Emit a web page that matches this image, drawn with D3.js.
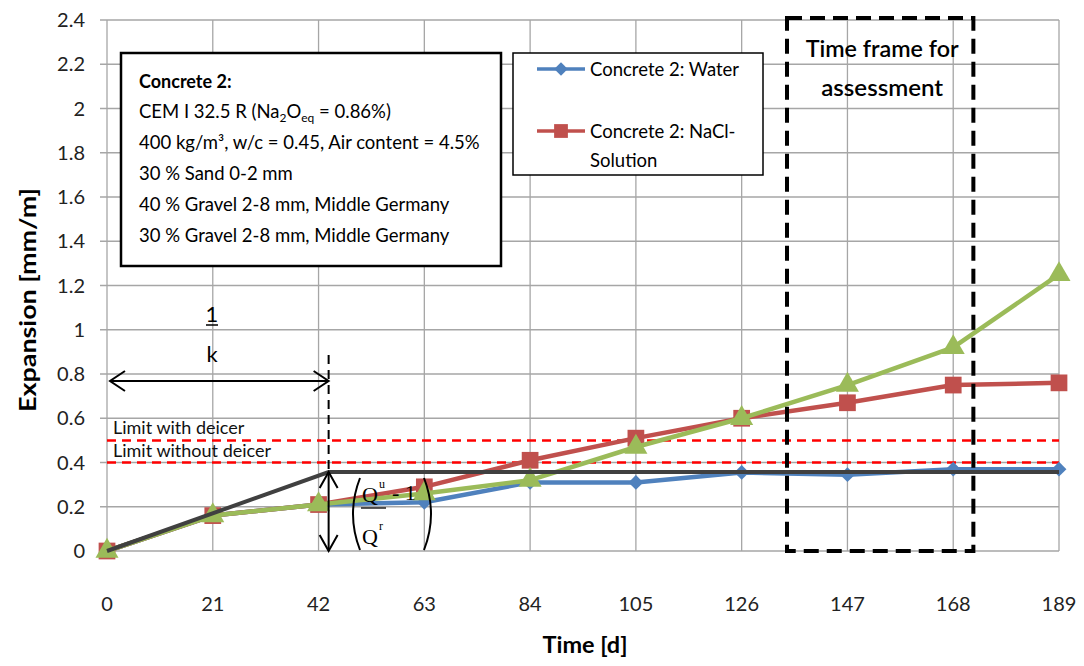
<!DOCTYPE html>
<html>
<head>
<meta charset="utf-8">
<script src="https://cdn.jsdelivr.net/npm/d3@7"></script>
<style>
  body { margin: 0; background: #fff; }
  text { font-family: Lato, "Open Sans", sans-serif; }
</style>
</head>
<body>
<div id="chart"></div>
<script>
// days of measurement
const days = [0, 21, 42, 63, 84, 105, 126, 147, 168, 189];
// expansion in mm/m
const waterValues = [0, 0.16, 0.21, 0.22, 0.31, 0.31, 0.355, 0.345, 0.37, 0.37];
const naclValues = [0, 0.16, 0.21, 0.29, 0.41, 0.51, 0.6, 0.67, 0.75, 0.76];
const thirdValues = [0, 0.16, 0.21, 0.26, 0.32, 0.47, 0.6, 0.75, 0.92, 1.25];
const yTicks = [0, 0.2, 0.4, 0.6, 0.8, 1, 1.2, 1.4, 1.6, 1.8, 2, 2.2, 2.4];
const limits = [
  { label: "Limit with deicer", value: 0.5 },
  { label: "Limit without deicer", value: 0.4 }
];
// bilinear fit drawn on top: rise to 1/k, then plateau
const fitDays = [0, 44, 189];
const fitValues = [0, 0.357, 0.357];
const assessmentFrame = [135, 172];
const legendNames = ["Concrete 2: Water", "Concrete 2: NaCl-", "Solution"];
const infoLines = [
  "CEM I 32.5 R (Na₂O_eq = 0.86%)",
  "400 kg/m³, w/c = 0.45, Air content = 4.5%",
  "30 % Sand 0-2 mm",
  "40 % Gravel 2-8 mm, Middle Germany",
  "30 % Gravel 2-8 mm, Middle Germany"
];

const width = 1084;
const height = 666;
const margin = { left: 107, right: 25, top: 20, bottom: 115 };

const svg = d3.select("#chart").append("svg")
  .attr("width", width)
  .attr("height", height);

const x = d3.scaleLinear().domain([0, 189]).range([margin.left, width - margin.right]);
const y = d3.scaleLinear().domain([0, 2.4]).range([height - margin.bottom, margin.top]);

// grid
const grid = svg.append("g");
grid.selectAll("line.h")
  .data(yTicks)
  .enter().append("line")
  .attr("x1", x(0) - 7).attr("x2", x(189))
  .attr("y1", d => y(d)).attr("y2", d => y(d))
  .style("stroke", "#a6a6a6").style("stroke-width", 1.3);
grid.selectAll("line.v")
  .data(days)
  .enter().append("line")
  .attr("x1", d => x(d)).attr("x2", d => x(d))
  .attr("y1", y(2.4)).attr("y2", y(0))
  .style("stroke", "#a6a6a6").style("stroke-width", 1.3);

// axis labels
svg.append("g").selectAll("text")
  .data(yTicks)
  .enter().append("text")
  .attr("x", x(0) - 22)
  .attr("y", d => y(d) + 7)
  .attr("text-anchor", "end")
  .style("font-size", "20px")
  .style("fill", "#222")
  .text(d => d);

svg.append("g").selectAll("text")
  .data(days)
  .enter().append("text")
  .attr("x", d => x(d))
  .attr("y", 611)
  .attr("text-anchor", "middle")
  .style("font-size", "20px")
  .style("fill", "#222")
  .text(d => d);

svg.append("text")
  .attr("transform", "translate(36,300) rotate(-90)")
  .attr("text-anchor", "middle")
  .attr("textLength", 224)
  .attr("lengthAdjust", "spacingAndGlyphs")
  .style("font-size", "22px")
  .style("font-weight", "bold")
  .text("Expansion [mm/m]");

svg.append("text")
  .attr("x", 585).attr("y", 653)
  .attr("text-anchor", "middle")
  .attr("textLength", 85)
  .attr("lengthAdjust", "spacingAndGlyphs")
  .style("font-size", "22px")
  .style("font-weight", "bold")
  .text("Time [d]");

// limit lines
limits.forEach(l => {
  svg.append("line")
    .attr("x1", x(0)).attr("x2", x(189))
    .attr("y1", y(l.value)).attr("y2", y(l.value))
    .style("stroke", "#ff0000").style("stroke-width", 2.5)
    .style("stroke-dasharray", "9,6");
  svg.append("text")
    .attr("x", x(0) + 6).attr("y", y(l.value) - 6)
    .style("font-size", "18px")
    .style("fill", "#111")
    .text(l.label);
});

// series
const line = d3.line().x((d, i) => x(days[i])).y(d => y(d));

function drawSeries(values, color, symbol, size, rotate) {
  svg.append("path")
    .datum(values)
    .attr("d", line)
    .style("fill", "none")
    .style("stroke", color)
    .style("stroke-width", 4.5)
    .style("stroke-linejoin", "round");
  svg.append("g").selectAll("path")
    .data(values)
    .enter().append("path")
    .attr("d", d3.symbol().type(symbol).size(size))
    .attr("transform", (d, i) => `translate(${x(days[i])},${y(d)}) rotate(${rotate})`)
    .style("fill", color);
}

drawSeries(waterValues, "#4f81bd", d3.symbolSquare, 110, 45);
drawSeries(naclValues, "#c0504d", d3.symbolSquare, 280, 0);
drawSeries(thirdValues, "#9bbb59", d3.symbolTriangle, 230, 0);

// fit line
svg.append("path")
  .datum(fitValues)
  .attr("d", d3.line().x((d, i) => x(fitDays[i])).y(d => y(d)))
  .style("fill", "none")
  .style("stroke", "#404040")
  .style("stroke-width", 4);

// 1/k annotation
const kx = x(fitDays[1]);
svg.append("line")
  .attr("x1", kx).attr("x2", kx)
  .attr("y1", 355).attr("y2", y(fitValues[1]))
  .style("stroke", "#000").style("stroke-width", 2)
  .style("stroke-dasharray", "9,6");

const arrowY = 381;
svg.append("line")
  .attr("x1", x(0) + 3).attr("x2", kx)
  .attr("y1", arrowY).attr("y2", arrowY)
  .style("stroke", "#000").style("stroke-width", 2);
svg.append("path")
  .attr("d", `M${x(0) + 18},${arrowY - 10}L${x(0) + 3},${arrowY}L${x(0) + 18},${arrowY + 10}` +
    `M${kx - 15},${arrowY - 10}L${kx},${arrowY}L${kx - 15},${arrowY + 10}`)
  .style("fill", "none").style("stroke", "#000").style("stroke-width", 2);

svg.append("text")
  .attr("x", 212).attr("y", 322)
  .attr("text-anchor", "middle")
  .style("font-size", "22px")
  .text("1");
svg.append("line")
  .attr("x1", 206).attr("x2", 218)
  .attr("y1", 325).attr("y2", 325)
  .style("stroke", "#000").style("stroke-width", 1.5);
svg.append("text")
  .attr("x", 212).attr("y", 362)
  .attr("text-anchor", "middle")
  .style("font-size", "22px")
  .text("k");

// vertical double arrow
const topY = y(fitValues[1]);
const botY = y(0);
svg.append("line")
  .attr("x1", kx).attr("x2", kx)
  .attr("y1", topY).attr("y2", botY)
  .style("stroke", "#000").style("stroke-width", 2);
svg.append("path")
  .attr("d", `M${kx - 9},${topY + 16}L${kx},${topY}L${kx + 9},${topY + 16}` +
    `M${kx - 9},${botY - 16}L${kx},${botY}L${kx + 9},${botY - 16}`)
  .style("fill", "none").style("stroke", "#000").style("stroke-width", 2);

// (Qu/Qr - 1)
svg.append("path")
  .attr("d", "M360,478 Q346,514 360,550 M424,478 Q438,514 424,550")
  .style("fill", "none").style("stroke", "#000").style("stroke-width", 2);
const serif = "'Liberation Serif', 'DejaVu Serif', serif";
svg.append("text").attr("x", 362).attr("y", 502)
  .style("font-family", serif).style("font-size", "22px")
  .text("Q");
svg.append("text").attr("x", 379).attr("y", 488)
  .style("font-family", serif).style("font-size", "12px")
  .text("u");
svg.append("line")
  .attr("x1", 361).attr("x2", 386).attr("y1", 508).attr("y2", 508)
  .style("stroke", "#000").style("stroke-width", 1.3);
svg.append("text").attr("x", 392).attr("y", 500)
  .style("font-family", serif).style("font-size", "22px")
  .text("- 1");
svg.append("text").attr("x", 362).attr("y", 544)
  .style("font-family", serif).style("font-size", "22px")
  .text("Q");
svg.append("text").attr("x", 379).attr("y", 530)
  .style("font-family", serif).style("font-size", "12px")
  .text("r");

// assessment frame
svg.append("rect")
  .attr("x", x(assessmentFrame[0])).attr("y", 18)
  .attr("width", x(assessmentFrame[1]) - x(assessmentFrame[0]))
  .attr("height", y(0) - 18)
  .style("fill", "none").style("stroke", "#000").style("stroke-width", 4)
  .style("stroke-dasharray", "15,8");
const frameMid = (x(assessmentFrame[0]) + x(assessmentFrame[1])) / 2 + 2;
[["Time frame for", 153], ["assessment", 122]].forEach((t, i) => {
  svg.append("text")
    .attr("x", frameMid).attr("y", 57 + i * 39)
    .attr("text-anchor", "middle")
    .attr("textLength", t[1])
    .attr("lengthAdjust", "spacingAndGlyphs")
    .style("font-size", "22px")
    .style("font-weight", "600")
    .text(t[0]);
});

// info box
svg.append("rect")
  .attr("x", 121).attr("y", 53).attr("width", 380).attr("height", 213)
  .style("fill", "#fff").style("stroke", "#000").style("stroke-width", 2.5);
svg.append("text")
  .attr("x", 139).attr("y", 88)
  .style("font-size", "18px").style("font-weight", "bold")
  .text("Concrete 2:");
infoLines.forEach((t, i) => {
  const txt = svg.append("text")
    .attr("x", 139).attr("y", 118 + i * 31)
    .style("font-size", "18.5px");
  if (t.includes("_eq")) {
    const parts = t.split(/₂|_eq/);
    txt.append("tspan").text(parts[0]);
    txt.append("tspan").attr("dy", 4).style("font-size", "12px").text("2");
    txt.append("tspan").attr("dy", -4).text(parts[1]);
    txt.append("tspan").attr("dy", 4).style("font-size", "12px").text("eq");
    txt.append("tspan").attr("dy", -4).text(parts[2]);
  } else {
    txt.text(t);
  }
});

// legend
svg.append("rect")
  .attr("x", 513).attr("y", 53).attr("width", 250).attr("height", 122)
  .style("fill", "#fff").style("stroke", "#000").style("stroke-width", 1.5);
const legendItems = [
  { y: 69, color: "#4f81bd", symbol: d3.symbolSquare, size: 90, rotate: 45, text: [legendNames[0]] },
  { y: 131, color: "#c0504d", symbol: d3.symbolSquare, size: 190, rotate: 0, text: [legendNames[1], legendNames[2]] }
];
legendItems.forEach(it => {
  svg.append("line")
    .attr("x1", 537).attr("x2", 585)
    .attr("y1", it.y).attr("y2", it.y)
    .style("stroke", it.color).style("stroke-width", 3.5);
  svg.append("path")
    .attr("d", d3.symbol().type(it.symbol).size(it.size))
    .attr("transform", `translate(561,${it.y}) rotate(${it.rotate})`)
    .style("fill", it.color);
  it.text.forEach((t, i) => {
    svg.append("text")
      .attr("x", 590).attr("y", it.y + 7 + i * 29)
      .style("font-size", "18.5px")
      .text(t);
  });
});
</script>
</body>
</html>
